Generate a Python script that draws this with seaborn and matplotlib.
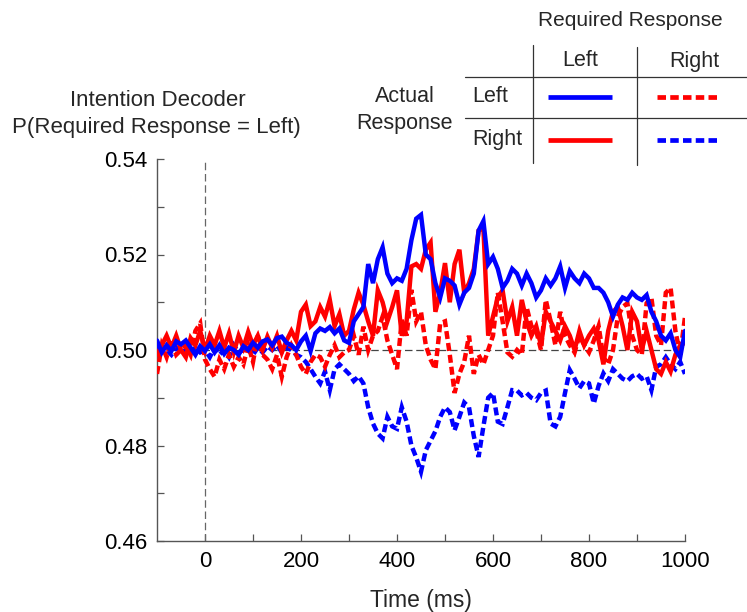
import numpy as np
import pandas as pd
import matplotlib
matplotlib.use("Agg")
import matplotlib.pyplot as plt
from matplotlib.lines import Line2D
import seaborn as sns

# ---------------- data ----------------
time_ms = list(range(-100, 1001, 10))

left_req_left_act = [  # blue solid
    0.5020, 0.4995, 0.5010, 0.4998, 0.5018, 0.5012, 0.5020, 0.5005, 0.4990, 0.5008,
    0.4998, 0.5012, 0.4995, 0.5010, 0.4992, 0.5005, 0.5000, 0.4990, 0.5008, 0.5000,
    0.5015, 0.5005, 0.5018, 0.5022, 0.5010, 0.5025, 0.5028, 0.5015, 0.5010, 0.5000,
    0.5018, 0.5030, 0.4998, 0.5035, 0.5045, 0.5040, 0.5048, 0.5035, 0.5045, 0.5020,
    0.5015, 0.5060, 0.5075, 0.5090, 0.5180, 0.5140, 0.5190, 0.5215, 0.5160, 0.5140,
    0.5150, 0.5145, 0.5170, 0.5230, 0.5275, 0.5283, 0.5200, 0.5190, 0.5140, 0.5110,
    0.5150, 0.5145, 0.5135, 0.5095, 0.5120, 0.5130, 0.5160, 0.5250, 0.5270, 0.5180,
    0.5195, 0.5170, 0.5130, 0.5145, 0.5170, 0.5160, 0.5135, 0.5160, 0.5140, 0.5110,
    0.5125, 0.5150, 0.5135, 0.5150, 0.5175, 0.5130, 0.5165, 0.5150, 0.5140, 0.5160,
    0.5150, 0.5130, 0.5130, 0.5120, 0.5100, 0.5070, 0.5095, 0.5110, 0.5105, 0.5120,
    0.5110, 0.5105, 0.5115, 0.5080, 0.5060, 0.5030, 0.5020, 0.5035, 0.5000, 0.4985,
    0.5040,
]

left_req_right_act = [  # red solid
    0.4990, 0.5010, 0.5030, 0.5005, 0.5030, 0.5000, 0.4985, 0.5025, 0.5010, 0.5040,
    0.5000, 0.5030, 0.5010, 0.5040, 0.5005, 0.5035, 0.4995, 0.5030, 0.5005, 0.5038,
    0.5010, 0.5030, 0.5000, 0.5028, 0.5005, 0.5030, 0.4995, 0.5020, 0.5040, 0.5020,
    0.5080, 0.5095, 0.5050, 0.5060, 0.5090, 0.5070, 0.5105, 0.5050, 0.5075, 0.5030,
    0.5040, 0.5085, 0.5120, 0.5095, 0.5060, 0.5030, 0.5125, 0.5100, 0.5060, 0.5090,
    0.5125, 0.5030, 0.5060, 0.5175, 0.5180, 0.5170, 0.5210, 0.5225, 0.5080, 0.5120,
    0.5182, 0.5100, 0.5180, 0.5210, 0.5120, 0.5140, 0.5170, 0.5250, 0.5255, 0.5030,
    0.5070, 0.5110, 0.5125, 0.5060, 0.5090, 0.5030, 0.5105, 0.5060, 0.5030, 0.5050,
    0.5010, 0.5080, 0.5060, 0.5040, 0.5020, 0.5050, 0.5030, 0.5000, 0.5040, 0.5010,
    0.5030, 0.5045, 0.5020, 0.4970, 0.5040, 0.5080, 0.5090, 0.5050, 0.5000, 0.5080,
    0.5060, 0.5000, 0.5040, 0.5000, 0.4960, 0.4950, 0.4975, 0.4955, 0.4990, 0.5010,
    0.5015,
]

right_req_left_act = [  # red dashed
    0.4950, 0.5010, 0.4985, 0.5020, 0.4990, 0.5000, 0.5010, 0.4990, 0.5040, 0.5056,
    0.4980, 0.4960, 0.4944, 0.4980, 0.4960, 0.4990, 0.4965, 0.4985, 0.4970, 0.5010,
    0.4975, 0.5030, 0.4990, 0.4980, 0.4960, 0.4990, 0.4944, 0.4985, 0.5010, 0.4990,
    0.4965, 0.4950, 0.4975, 0.4990, 0.4985, 0.4965, 0.4990, 0.5010, 0.4985, 0.4995,
    0.5000, 0.5030, 0.4990, 0.5049, 0.5000, 0.5030, 0.5040, 0.5070, 0.5020, 0.4990,
    0.4960, 0.5063, 0.5030, 0.5126, 0.5060, 0.5080, 0.5010, 0.4980, 0.4960, 0.5056,
    0.5060, 0.4990, 0.4910, 0.4950, 0.4975, 0.5030, 0.4950, 0.4990, 0.4970, 0.5000,
    0.5030, 0.5120, 0.5060, 0.4995, 0.4986, 0.5000, 0.4990, 0.5090, 0.5050, 0.5040,
    0.5000, 0.5105, 0.5060, 0.5010, 0.5080, 0.5030, 0.5010, 0.4995, 0.5030, 0.5010,
    0.4995, 0.5020, 0.5050, 0.4985, 0.4970, 0.5000, 0.5070, 0.5090, 0.5098, 0.5030,
    0.5000, 0.4990, 0.5098, 0.5110, 0.5030, 0.5010, 0.5120, 0.5130, 0.5040, 0.4990,
    0.5070,
]

right_req_right_act = [  # blue dashed
    0.5005, 0.4995, 0.5000, 0.4990, 0.5005, 0.4995, 0.5000, 0.4990, 0.5005, 0.4995,
    0.5000, 0.4985, 0.5005, 0.4990, 0.5000, 0.4985, 0.5010, 0.4995, 0.5000, 0.5010,
    0.4990, 0.5005, 0.4995, 0.5008, 0.5000, 0.5010, 0.4995, 0.5005, 0.5000, 0.4990,
    0.4985, 0.4975, 0.4960, 0.4944, 0.4930, 0.4955, 0.4916, 0.4960, 0.4970, 0.4960,
    0.4950, 0.4935, 0.4945, 0.4930, 0.4880, 0.4846, 0.4825, 0.4815, 0.4860, 0.4840,
    0.4835, 0.4880, 0.4850, 0.4800, 0.4775, 0.4745, 0.4790, 0.4810, 0.4830, 0.4860,
    0.4880, 0.4870, 0.4832, 0.4860, 0.4890, 0.4880, 0.4820, 0.4776, 0.4840, 0.4900,
    0.4910, 0.4850, 0.4845, 0.4880, 0.4916, 0.4915, 0.4905, 0.4910, 0.4900, 0.4895,
    0.4910, 0.4915, 0.4846, 0.4840, 0.4860, 0.4910, 0.4958, 0.4940, 0.4920, 0.4935,
    0.4930, 0.4888, 0.4925, 0.4951, 0.4935, 0.4960, 0.4950, 0.4940, 0.4935, 0.4945,
    0.4950, 0.4940, 0.4945, 0.4916, 0.4965, 0.4970, 0.4985, 0.4970, 0.4960, 0.4975,
    0.4950,
]

x_ticks = [0, 200, 400, 600, 800, 1000]
y_ticks = [0.46, 0.48, 0.50, 0.52, 0.54]
y_tick_labels = ["0.46", "0.48", "0.50", "0.52", "0.54"]

# ---------------- style ----------------
sns.set_style("ticks")
plt.rcParams["font.family"] = ["Liberation Sans", "DejaVu Sans"]

W, H = 747, 612
fig = plt.figure(figsize=(W / 100, H / 100), dpi=100)


def fx(x):
    return x / W


def fy(y):
    return 1 - y / H


ax = fig.add_axes([fx(157), fy(541), fx(685) - fx(157), fy(159) - fy(541)])

BLUE = "#0000ff"
RED = "#ff0000"
LW = 3.2
DASH = (1.8, 0.9)   # in units of line width

ax.axhline(0.5, color="#444444", lw=0.9, ls=(0, (6, 3)), zorder=1)
ax.axvline(0, color="#666666", lw=0.9, ls=(0, (6, 3)), zorder=1)

series = [
    (right_req_right_act, BLUE, DASH),
    (right_req_left_act, RED, DASH),
    (left_req_right_act, RED, None),
    (left_req_left_act, BLUE, None),
]
for vals, col, dash in series:
    df = pd.DataFrame({"t": time_ms, "p": vals})
    line_ax = sns.lineplot(data=df, x="t", y="p", ax=ax, color=col, lw=LW, zorder=3)
    ln = line_ax.get_lines()[-1]
    if dash is not None:
        ln.set_dashes(list(dash))
    ln.set_solid_joinstyle("miter")
    ln.set_dash_joinstyle("miter")

ax.set_xlim(-100, 1000)
ax.set_ylim(0.46, 0.54)
ax.set_xticks(x_ticks)
ax.set_xticks([100, 300, 500, 700, 900], minor=True)
ax.set_yticks(y_ticks)
ax.set_yticklabels(y_tick_labels)
ax.set_yticks([0.47, 0.49, 0.51, 0.53], minor=True)
ax.tick_params(which="both", direction="in", length=5, width=0.9, color="#555555",
               labelsize=16, labelcolor="black", pad=7)
for s in ["top", "right"]:
    ax.spines[s].set_visible(False)
for s in ["left", "bottom"]:
    ax.spines[s].set_color("#555555")
    ax.spines[s].set_linewidth(1.0)
ax.set_xlabel("")
ax.set_ylabel("")

fig.text(fx(421), fy(600), "Time (ms)", ha="center", va="center", fontsize=16.5)
fig.text(fx(158), fy(100), "Intention Decoder", ha="center", va="center", fontsize=16)
fig.text(fx(156), fy(128), "P(Required Response = Left)", ha="center", va="center", fontsize=16)

# ---------------- legend table ----------------
fig.text(fx(630), fy(20), "Required Response", ha="center", va="center", fontsize=15)
fig.text(fx(580), fy(61), "Left", ha="center", va="center", fontsize=15.5)
fig.text(fx(694), fy(61), "Right", ha="center", va="center", fontsize=15.5)
fig.text(fx(490), fy(97), "Left", ha="center", va="center", fontsize=15.5)
fig.text(fx(497), fy(140), "Right", ha="center", va="center", fontsize=15.5)
fig.text(fx(405), fy(97), "Actual", ha="center", va="center", fontsize=15.5)
fig.text(fx(405), fy(124), "Response", ha="center", va="center", fontsize=15.5)

grid_col = "#333333"
fig.add_artist(Line2D([fx(533), fx(533)], [fy(45), fy(163)], color=grid_col, lw=0.9))
fig.add_artist(Line2D([fx(637), fx(637)], [fy(47), fy(165)], color=grid_col, lw=0.9))
fig.add_artist(Line2D([fx(465), fx(747)], [fy(77), fy(77)], color=grid_col, lw=0.9))
fig.add_artist(Line2D([fx(465), fx(747)], [fy(118), fy(118)], color=grid_col, lw=0.9))


def sample(x0, x1, y, col, dashed):
    ln = Line2D([fx(x0), fx(x1)], [fy(y), fy(y)], color=col, lw=3.4,
                solid_capstyle="butt", dash_capstyle="butt")
    if dashed:
        ln.set_dashes([1.8, 0.9])
    fig.add_artist(ln)


sample(548, 612, 97, BLUE, False)
sample(657, 718, 97, RED, True)
sample(548, 612, 140, RED, False)
sample(657, 718, 140, BLUE, True)

fig.savefig("out.png", dpi=100)
